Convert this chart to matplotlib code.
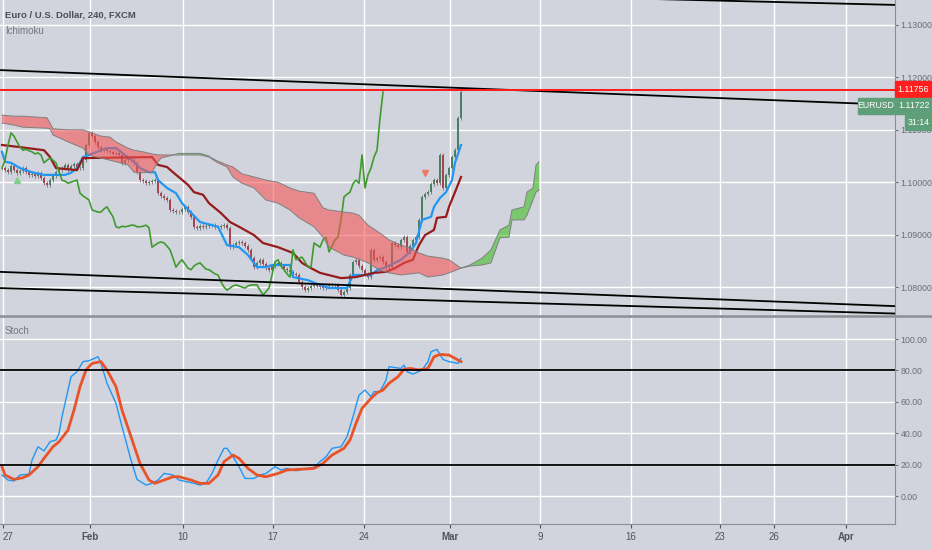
import numpy as np
import matplotlib
matplotlib.use('Agg')
import matplotlib.pyplot as plt
from matplotlib.patches import Rectangle
from matplotlib.lines import Line2D

plt.rcParams['font.family'] = ['Liberation Sans', 'DejaVu Sans']

# ---- price data (4h bars, bar 0 = Jan 27) ----
closes = [
    1.1027, 1.1023, 1.1020, 1.1031, 1.1023, 1.1018, 1.1021, 1.1027, 1.1020, 1.1014,
    1.1016, 1.1012, 1.1018, 1.1008, 1.0999, 1.0995, 1.1004, 1.1012, 1.1020, 1.1023,
    1.1027, 1.1033, 1.1023, 1.1031, 1.1035, 1.1027,
    1.1027, 1.1042, 1.1071, 1.1094, 1.1088, 1.1077, 1.1067, 1.1061, 1.1063, 1.1060,
    1.1058, 1.1054, 1.1056, 1.1052, 1.1037, 1.1042, 1.1046, 1.1042, 1.1037, 1.1020,
    1.1004, 1.1002, 1.0998, 1.1000, 1.1002, 1.1004, 1.0979, 1.0974, 1.0970, 1.0966,
    1.0947, 1.0945, 1.0943, 1.0943, 1.0949, 1.0953, 1.0943, 1.0934, 1.0915, 1.0913,
    1.0916, 1.0915, 1.0916, 1.0918, 1.0918, 1.0915, 1.0915, 1.0916, 1.0918, 1.0913,
    1.0876, 1.0880, 1.0884, 1.0886, 1.0884, 1.0878, 1.0871, 1.0855, 1.0838, 1.0846,
    1.0852, 1.0844, 1.0836, 1.0833, 1.0840, 1.0844, 1.0846, 1.0840, 1.0834, 1.0833,
    1.0829, 1.0825, 1.0823, 1.0810, 1.0800, 1.0794, 1.0798, 1.0802, 1.0804, 1.0802,
    1.0800, 1.0798, 1.0802, 1.0804, 1.0804, 1.0804, 1.0794, 1.0785, 1.0791, 1.0798,
    1.0823, 1.0848, 1.0852, 1.0840, 1.0833, 1.0825, 1.0819, 1.0871, 1.0852, 1.0855,
    1.0857, 1.0848, 1.0838, 1.0838, 1.0884, 1.0880, 1.0876, 1.0890, 1.0895, 1.0867,
    1.0878, 1.0890, 1.0895, 1.0928, 1.0972, 1.0977, 1.0981, 1.0997, 1.1004, 1.0998,
    1.1052, 1.0989, 1.1014, 1.1027, 1.1048, 1.1061, 1.1122, 1.1172,
]

tenkan_bar = [0, 1, 3, 6, 10, 14, 21, 23, 25, 27, 29, 35, 38, 41, 44, 46, 49, 51, 52, 55,
              58, 60, 66, 72, 75, 79, 82, 85, 88, 90, 96, 97, 102, 106, 109, 115, 117, 123,
              125, 128, 133, 136, 138, 140, 143, 144, 146, 148, 150, 151, 153]
tenkan_val = [1.1058, 1.1039, 1.1037, 1.1027, 1.1019, 1.1014, 1.1014, 1.1018, 1.1027, 1.1048,
              1.1052, 1.1065, 1.1065, 1.1052, 1.1039, 1.1027, 1.1019, 1.1019, 1.1004, 1.0989,
              1.0979, 1.0960, 1.0924, 1.0915, 1.0880, 1.0876, 1.0861, 1.0838, 1.0838, 1.0842,
              1.0842, 1.0819, 1.0813, 1.0804, 1.0798, 1.0798, 1.0823, 1.0823, 1.0832, 1.0838,
              1.0852, 1.0867, 1.0884, 1.0928, 1.0934, 1.0953, 1.0970, 1.0981, 1.1004, 1.1037,
              1.1071]

kijun_bar = [0, 6, 14, 16, 18, 25, 27, 50, 52, 55, 57, 62, 64, 67, 69, 73, 76, 79, 84, 87,
             92, 97, 100, 103, 106, 113, 118, 124, 128, 131, 134, 137, 138, 139, 141, 144,
             145, 148, 149, 151, 153]
kijun_val = [1.1071, 1.1067, 1.1061, 1.1048, 1.1027, 1.1023, 1.1046, 1.1048, 1.1033, 1.1029,
             1.1019, 1.0995, 1.0981, 1.0976, 1.0960, 1.0941, 1.0924, 1.0915, 1.0899, 1.0884,
             1.0876, 1.0865, 1.0846, 1.0836, 1.0827, 1.0817, 1.0819, 1.0827, 1.0829, 1.0836,
             1.0846, 1.0852, 1.0867, 1.0880, 1.0899, 1.0909, 1.0932, 1.0934, 1.0953, 1.0981,
             1.1010]

cloud_bar = [0, 4, 7, 15, 16, 17, 22, 27, 29, 30, 33, 36, 38, 42, 44, 47, 50, 52, 53, 59,
             66, 69, 70, 72, 75, 77, 80, 84, 88, 92, 96, 99, 104, 107, 109, 114, 117, 119,
             122, 126, 129, 133, 136, 139, 142, 147, 149, 153, 156, 160, 163, 166, 169, 170,
             174, 175, 177, 178, 179]
span_b = [1.1128, 1.1126, 1.1126, 1.1123, 1.1113, 1.1102, 1.1100, 1.1100, 1.1096, 1.1094,
          1.1088, 1.1086, 1.1077, 1.1065, 1.1061, 1.1058, 1.1054, 1.1052, 1.1052, 1.1052,
          1.1052, 1.1048, 1.1046, 1.1040, 1.1033, 1.1029, 1.1016, 1.1010, 1.1004, 1.1000,
          1.0989, 1.0983, 1.0979, 1.0951, 1.0947, 1.0943, 1.0941, 1.0937, 1.0918, 1.0903,
          1.0890, 1.0880, 1.0874, 1.0865, 1.0859, 1.0855, 1.0852, 1.0836, 1.0840, 1.0842,
          1.0846, 1.0894, 1.0895, 1.0928, 1.0928, 1.0937, 1.0966, 1.0981, 1.0985]
span_a = [1.1113, 1.1109, 1.1105, 1.1103, 1.1102, 1.1090, 1.1077, 1.1065, 1.1052, 1.1050,
          1.1046, 1.1042, 1.1039, 1.1033, 1.1019, 1.1018, 1.1019, 1.1039, 1.1046, 1.1055,
          1.1055, 1.1050, 1.1044, 1.1037, 1.1029, 1.1010, 1.0998, 1.0989, 1.0966, 1.0960,
          1.0947, 1.0932, 1.0915, 1.0895, 1.0876, 1.0861, 1.0857, 1.0853, 1.0846, 1.0832,
          1.0827, 1.0823, 1.0825, 1.0827, 1.0819, 1.0823, 1.0827, 1.0836, 1.0842, 1.0855,
          1.0871, 1.0909, 1.0918, 1.0947, 1.0953, 1.0981, 1.0989, 1.1033, 1.1039]

# trend lines drawn on the chart: (bar, price) end points
trend_lines = [
    [(200, 1.1352), (300, 1.1338)],
    [(-1, 1.1214), (300, 1.1147)],
    [(-1, 1.0829), (300, 1.0763)],
    [(-1, 1.0798), (300, 1.0749)],
]
resistance = 1.11756
sell_signal = (141, 1.1018)
buy_signal = (5, 1.1004)

# ---- stochastic ----
k_bar = [0, 2, 4, 6, 9, 10, 12, 14, 16, 18, 19, 20, 22, 23, 25, 27, 29, 32, 33, 35, 38, 40,
         43, 45, 48, 50, 52, 54, 57, 59, 64, 66, 68, 70, 72, 74, 75, 77, 79, 81, 84, 86, 88,
         91, 93, 95, 98, 100, 104, 106, 108, 110, 113, 115, 117, 119, 121, 123, 124, 126,
         128, 129, 133, 134, 135, 137, 140, 142, 143, 145, 147, 149, 152, 153]
k_val = [13.4, 10.2, 9.6, 13.4, 14.0, 22.9, 31.4, 28.7, 34.6, 35.7, 39.9, 50.5, 67.5, 76.0,
         79.2, 85.6, 86.2, 88.7, 84.5, 71.8, 59.0, 44.2, 22.9, 10.6, 7.0, 8.1, 10.2, 14.4,
         13.4, 10.2, 8.1, 7.0, 8.1, 14.4, 22.9, 30.4, 30.4, 25.0, 18.7, 11.2, 11.2, 13.4,
         14.4, 18.7, 16.6, 17.6, 16.1, 17.0, 18.3, 21.9, 25.0, 30.4, 31.4, 37.8, 50.5, 64.3,
         67.5, 63.3, 66.5, 66.5, 73.9, 82.4, 81.3, 83.4, 79.2, 77.7, 80.3, 85.6, 91.9, 93.4,
         87.0, 85.6, 84.5, 87.7]
d_bar = [0, 1, 4, 7, 9, 12, 14, 17, 19, 22, 24, 26, 28, 30, 33, 35, 38, 40, 43, 46, 49, 51,
         54, 57, 59, 63, 66, 69, 72, 74, 77, 79, 82, 85, 88, 92, 95, 99, 104, 107, 110, 114,
         116, 118, 120, 123, 125, 127, 129, 132, 134, 136, 139, 142, 144, 146, 149, 151, 153]
d_val = [18.7, 13.4, 10.6, 11.7, 13.4, 18.7, 24.0, 31.4, 34.6, 42.0, 54.8, 69.6, 80.3, 84.5,
         85.6, 80.3, 69.6, 54.8, 37.8, 20.8, 10.2, 8.1, 10.2, 12.3, 12.3, 10.2, 8.1, 8.1,
         13.4, 21.9, 26.1, 24.0, 17.6, 13.4, 12.3, 14.4, 16.6, 17.0, 17.6, 20.8, 26.1, 30.4,
         35.7, 46.3, 55.8, 62.2, 65.8, 67.5, 71.8, 76.0, 80.7, 81.3, 80.3, 81.3, 88.7, 90.2,
         89.8, 87.7, 85.6]

tick_pos = [0.33, 29.3, 60.3, 90.3, 120.7, 149.3, 179.3, 209.7, 239.3, 257.3, 281.3]
tick_lab = ['27', 'Feb', '10', '17', '24', 'Mar', '9', '16', '23', '26', 'Apr']
price_ticks = [1.08, 1.09, 1.10, 1.11, 1.12, 1.13]
stoch_ticks = [0, 20, 40, 60, 80, 100]

BG = '#d1d4dc'
TXT = '#6b6e76'
W, H = 932, 550
FS = 6.3

fig = plt.figure(figsize=(9.32, 5.5), dpi=100)
fig.patch.set_facecolor(BG)
ax1 = fig.add_axes([0, 1 - 315 / H, 895 / W, 315 / H])
ax2 = fig.add_axes([0, 26 / H, 895 / W, 206 / H], sharex=ax1)

for ax in (ax1, ax2):
    ax.set_facecolor(BG)
    ax.grid(True, color='white', lw=1.0, zorder=0)
    ax.set_axisbelow(True)
    for s in ('top', 'left'):
        ax.spines[s].set_visible(False)
    ax.spines['right'].set_color('#8c8f96')
    ax.spines['bottom'].set_color('#8c8f96')
    ax.yaxis.tick_right()
    ax.tick_params(axis='y', labelsize=FS, colors=TXT, length=2.5, width=0.8, pad=1.5)

ax1.spines['bottom'].set_visible(False)
fig.add_artist(Line2D([0, 1], [1 - 316 / H, 1 - 316 / H], transform=fig.transFigure,
                      color='#8c8f96', lw=1.8))

# candles
c = np.array(closes)
x = np.arange(len(c))
o = np.r_[c[0], c[:-1]]
wick = 0.0004
up = c >= o
ax1.vlines(x, np.minimum(o, c) - wick, np.maximum(o, c) + wick, color='#6e7277', lw=0.6, zorder=2)
ax1.bar(x[up], (c - o)[up], bottom=o[up], width=0.65, color='#4a7f63', zorder=2)
ax1.bar(x[~up], (c - o)[~up], bottom=o[~up], width=0.65, color='#a8434f', zorder=2)

# ichimoku lines
ax1.plot(tenkan_bar, tenkan_val, color='#2196f3', lw=1.6, zorder=3)
ax1.plot(kijun_bar, kijun_val, color='#961c1c', lw=1.6, zorder=3)
ax1.plot(x[26:] - 26, c[26:], color='#3f9b2f', lw=1.2, zorder=3)

# cloud, drawn over the lines like the original
cb = np.array(cloud_bar)
sa = np.array(span_a)
sb = np.array(span_b)
ax1.fill_between(cb, sa, sb, where=sa <= sb, interpolate=True, color='#f75452', alpha=0.58,
                 lw=0, zorder=4)
ax1.fill_between(cb, sa, sb, where=sa >= sb, interpolate=True, color='#3cbf22', alpha=0.58,
                 lw=0, zorder=4)
ax1.plot(cb, sa, color='#7f8080', lw=0.7, zorder=4)
ax1.plot(cb, sb, color='#7f8080', lw=0.7, zorder=4)

for (x0, y0), (x1, y1) in trend_lines:
    ax1.plot([x0, x1], [y0, y1], color='black', lw=1.3, zorder=5)
ax1.axhline(resistance, color='#ff1a1a', lw=1.4, zorder=5)

ax1.plot(*sell_signal, marker='v', color='#f07a68', ms=5, zorder=5)
ax1.plot(*buy_signal, marker='^', color='#7fd08a', ms=5, zorder=5)

ax1.set_xlim(-0.67, 297.67)
ax1.set_ylim(1.07466, 1.13477)
ax1.set_yticks(price_ticks)
ax1.yaxis.set_major_formatter(matplotlib.ticker.FormatStrFormatter('%.5f'))
ax1.tick_params(axis='x', length=0, labelbottom=False)

# stochastic panel
ax2.plot(k_bar, k_val, color='#2196f3', lw=1.0, zorder=3)
ax2.plot(d_bar, d_val, color='#e8532a', lw=2.0, zorder=3)
ax2.axhline(80, color='black', lw=1.3, zorder=4)
ax2.axhline(20, color='black', lw=1.3, zorder=4)
ax2.set_ylim(-17.8, 113.4)
ax2.set_yticks(stoch_ticks)
ax2.yaxis.set_major_formatter(matplotlib.ticker.FormatStrFormatter('%.2f'))
ax2.set_xticks(tick_pos)
ax2.set_xticklabels(tick_lab)
ax2.tick_params(axis='x', labelsize=7, colors='#50535a', length=3, width=0.8, pad=3)
for t in ax2.get_xticklabels():
    if t.get_text() in ('Feb', 'Mar', 'Apr'):
        t.set_fontweight('bold')
ax2.get_xticklabels()[0].set_horizontalalignment('left')

# titles
fig.text(5 / W, 1 - 15 / H, 'Euro / U.S. Dollar, 240, FXCM', fontsize=6.8, fontweight='bold',
         color='#4b4e55', va='center')
fig.text(5 / W, 1 - 31 / H, 'Ichimoku', fontsize=7, color='#74777e', va='center')
fig.text(5 / W, 1 - 331 / H, 'Stoch', fontsize=7, color='#74777e', va='center')


def price_box(x0, x1, y0, y1, color, text):
    fig.add_artist(Rectangle((x0 / W, 1 - y1 / H), (x1 - x0) / W, (y1 - y0) / H,
                             transform=fig.transFigure, color=color, zorder=10))
    fig.text((x0 + x1) / 2 / W, 1 - (y0 + y1) / 2 / H, text, fontsize=FS, color='white',
             ha='center', va='center', zorder=11)


price_box(895, 932, 81, 97, '#ff1f1f', '1.11756')
price_box(858, 894, 98, 114, '#5e9e78', 'EURUSD')
price_box(895, 932, 98, 114, '#5e9e78', '1.11722')
price_box(905, 932, 115, 130, '#5e9e78', '31:14')

fig.savefig('out.png', dpi=100, facecolor=BG)
